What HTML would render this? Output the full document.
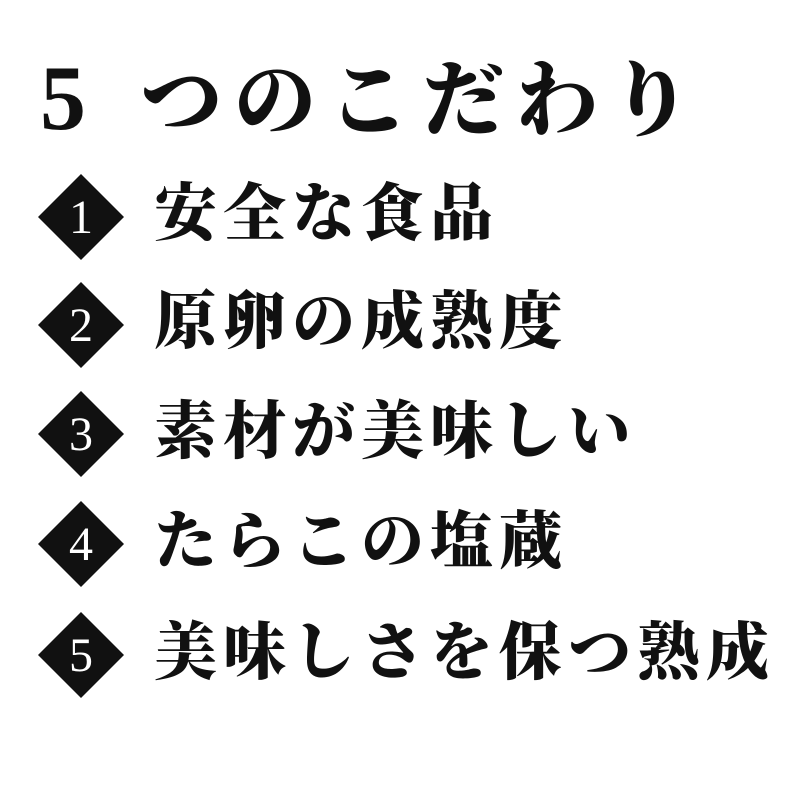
<!DOCTYPE html>
<html><head><meta charset="utf-8"><style>
html,body{margin:0;padding:0;background:#fff;width:800px;height:800px;overflow:hidden;position:relative}
.t{position:absolute;font-family:"Liberation Serif","Noto Serif CJK JP","Noto Serif CJK SC",serif;font-weight:900;color:#111;white-space:nowrap;line-height:1}
.title{left:40px;top:52px;font-size:82px;letter-spacing:12px}
.row{left:154px;font-size:63px;letter-spacing:6px}
.d{position:absolute;left:38px;width:86px;height:86px}
</style></head><body>
<div class="t title"><span style="font-size:92px;display:inline-block;width:100px;letter-spacing:0">5</span>つのこだわり</div>
<svg class="d" style="top:174px" viewBox="0 0 86 86"><polygon points="43,0 86,43 43,86 0,43" fill="#111"/><text x="43" y="59" text-anchor="middle" font-family="Liberation Serif,serif" font-size="48" fill="#fff">1</text></svg>
<div class="t row" style="top:183px">安全な食品</div>
<svg class="d" style="top:282px" viewBox="0 0 86 86"><polygon points="43,0 86,43 43,86 0,43" fill="#111"/><text x="43" y="59" text-anchor="middle" font-family="Liberation Serif,serif" font-size="48" fill="#fff">2</text></svg>
<div class="t row" style="top:291px">原卵の成熟度</div>
<svg class="d" style="top:391px" viewBox="0 0 86 86"><polygon points="43,0 86,43 43,86 0,43" fill="#111"/><text x="43" y="59" text-anchor="middle" font-family="Liberation Serif,serif" font-size="48" fill="#fff">3</text></svg>
<div class="t row" style="top:401px">素材が美味しい</div>
<svg class="d" style="top:501px" viewBox="0 0 86 86"><polygon points="43,0 86,43 43,86 0,43" fill="#111"/><text x="43" y="59" text-anchor="middle" font-family="Liberation Serif,serif" font-size="48" fill="#fff">4</text></svg>
<div class="t row" style="top:511px">たらこの塩蔵</div>
<svg class="d" style="top:612px" viewBox="0 0 86 86"><polygon points="43,0 86,43 43,86 0,43" fill="#111"/><text x="43" y="59" text-anchor="middle" font-family="Liberation Serif,serif" font-size="48" fill="#fff">5</text></svg>
<div class="t row" style="top:622px">美味しさを保つ熟成</div>
</body></html>
